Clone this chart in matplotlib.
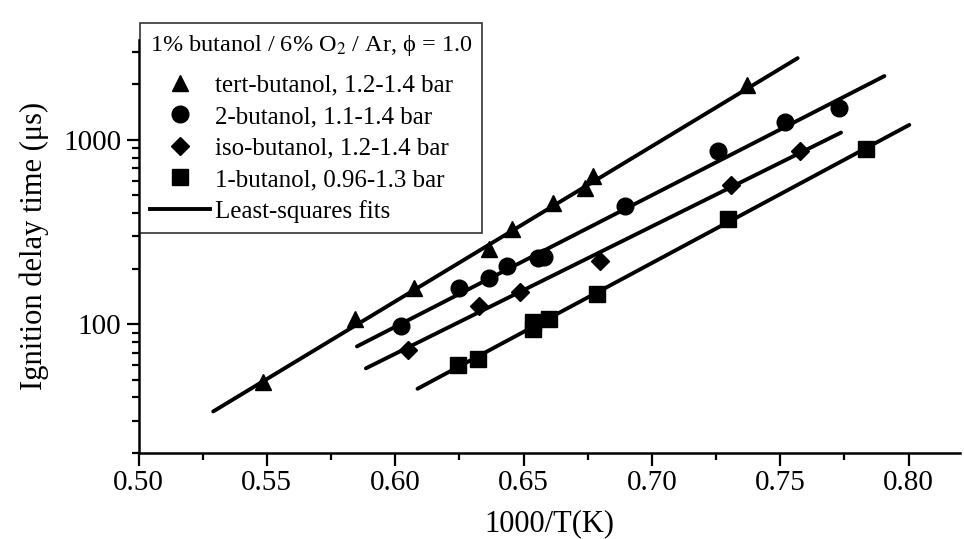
import matplotlib
matplotlib.use("Agg")
import matplotlib.pyplot as plt
from matplotlib.lines import Line2D

plt.rcParams['font.family'] = ['Liberation Serif', 'DejaVu Serif']
plt.rcParams['mathtext.fontset'] = 'stix'

# ignition delay data, 1000/T (1/K) vs tau (us)
tert_x = [0.5485, 0.5842, 0.6075, 0.6364, 0.6457, 0.6613, 0.6740, 0.6771, 0.7371]
tert_y = [48.4, 106, 158, 257, 329, 455, 548, 635, 1983]

but2_x = [0.6022, 0.6249, 0.6365, 0.6436, 0.6555, 0.6580, 0.6896, 0.7256, 0.7517, 0.7731]
but2_y = [98.2, 158, 179, 207, 228, 232, 440, 875, 1256, 1483]

iso_x = [0.6048, 0.6326, 0.6488, 0.6799, 0.7310, 0.7576]
iso_y = [72.6, 125.6, 149, 220, 571, 865]

but1_x = [0.6246, 0.6324, 0.6536, 0.6536, 0.6601, 0.6786, 0.7297, 0.7834]
but1_y = [60, 64.7, 94, 102.5, 106.4, 145, 373, 891]

# least-squares fit lines (end points)
fit_tert_x = [0.5291, 0.7568]
fit_tert_y = [33.6, 2775]
fit_but2_x = [0.5851, 0.7906]
fit_but2_y = [75.7, 2218]
fit_iso_x = [0.5886, 0.7737]
fit_iso_y = [57.6, 1095]
fit_but1_x = [0.6087, 0.8003]
fit_but1_y = [44.6, 1205]

labels = ["tert-butanol, 1.2-1.4 bar", "2-butanol, 1.1-1.4 bar",
          "iso-butanol, 1.2-1.4 bar", "1-butanol, 0.96-1.3 bar"]

fig = plt.figure(figsize=(9.64, 5.39), dpi=100)
ax = fig.add_axes([0.1437, 0.1596, 0.852, 0.767])

lw = 2.8
for fx, fy in [(fit_tert_x, fit_tert_y), (fit_but2_x, fit_but2_y),
               (fit_iso_x, fit_iso_y), (fit_but1_x, fit_but1_y)]:
    ax.plot(fx, fy, color='black', lw=lw, solid_capstyle='round')

ax.plot(tert_x, tert_y, '^', color='black', ms=12, ls='none')
ax.plot(but2_x, but2_y, 'o', color='black', ms=12, ls='none')
ax.plot(iso_x, iso_y, 'D', color='black', ms=9.5, ls='none')
ax.plot(but1_x, but1_y, 's', color='black', ms=11, ls='none')

ax.set_yscale('log')
ax.set_xlim(0.50, 0.82)
ax.set_ylim(20, 3500)
ax.set_xticks([0.50, 0.55, 0.60, 0.65, 0.70, 0.75, 0.80])
ax.set_xticks([0.525, 0.575, 0.625, 0.675, 0.725, 0.775], minor=True)
ax.set_yticks([100, 1000])
ax.set_yticklabels(["100", "1000"])
ax.tick_params(axis='both', which='major', direction='out', length=9, width=1.6, labelsize=21)
ax.tick_params(axis='both', which='minor', direction='out', length=5, width=1.6, labelleft=False)
ax.xaxis.set_major_formatter(matplotlib.ticker.FormatStrFormatter('%.2f'))

for s in ['top', 'right']:
    ax.spines[s].set_visible(False)
for s in ['left', 'bottom']:
    ax.spines[s].set_linewidth(1.8)

ax.set_xlabel("1000/T(K)", fontsize=22, labelpad=9.5)
ax.set_ylabel("Ignition delay time (μs)", fontsize=22, labelpad=10)

handles = [
    Line2D([], [], marker='^', color='black', ls='none', ms=12),
    Line2D([], [], marker='o', color='black', ls='none', ms=12),
    Line2D([], [], marker='D', color='black', ls='none', ms=9.5),
    Line2D([], [], marker='s', color='black', ls='none', ms=11),
    Line2D([], [], color='black', lw=lw),
]
leg = ax.legend(handles, labels + ["Least-squares fits"],
                title="1% butanol / 6% O$_2$ / Ar, ϕ = 1.0",
                loc='upper left', bbox_to_anchor=(0.002, 1.040),
                fontsize=18, title_fontsize=17.5, frameon=True, fancybox=False,
                edgecolor='black', handlelength=2.4, handletextpad=0.2,
                labelspacing=0.36, borderpad=0.4, borderaxespad=0.0)
leg.get_frame().set_linewidth(1.2)
leg._legend_box.align = "left"
leg._legend_box.sep = 11.5

fig.savefig("out.png", dpi=100)
